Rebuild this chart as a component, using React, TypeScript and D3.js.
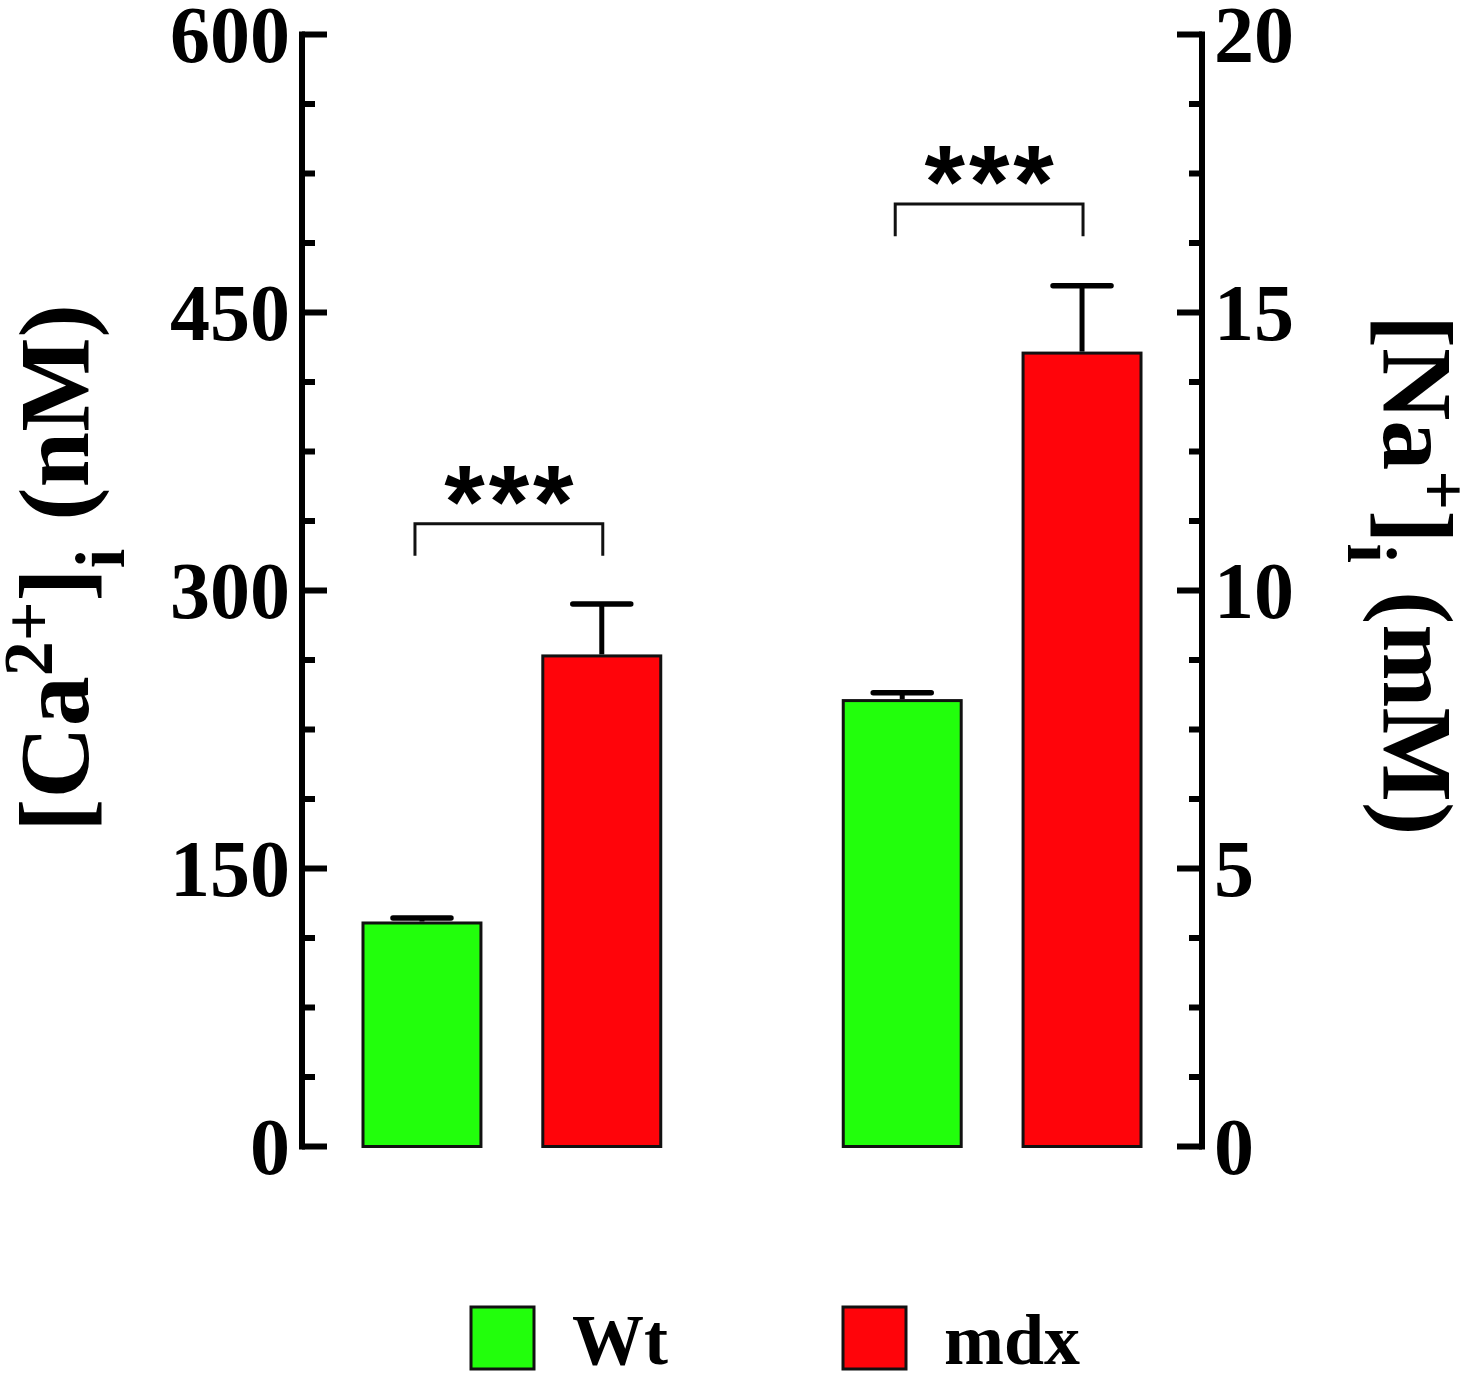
import { useEffect, useRef } from "react";
import * as d3 from "d3";

// Groups (ion) and series (genotype)
const groups = ["Ca", "Na"];
const series = ["Wt", "mdx"];
const seriesColors = ["#22ff0c", "#ff040a"];

// Means and SEM
const caMeans = [120.6, 264.7]; // nM
const caErrors = [2.7, 28.0];
const naMeans = [8.02, 14.27]; // mM
const naErrors = [0.14, 1.21];

// Axes
const caTicks = [0, 150, 300, 450, 600];
const naTicks = [0, 5, 10, 15, 20];
const caMinorStep = 37.5;
const naMinorStep = 1.25;

// Significance brackets (in each group's own units)
const sigLabels = ["***", "***"];
const sigLevels = [336, 16.95];
const sigDrops = [17.3, 0.58];

const serif = "'Liberation Serif', 'Times New Roman', serif";

export default function App() {
  const svgRef = useRef<SVGSVGElement>(null);

  useEffect(() => {
    if (!svgRef.current) return;
    const W = 1465;
    const H = 1380;
    const svg = d3.select(svgRef.current).attr("width", W).attr("height", H);
    svg.selectAll("*").remove();

    const axisLeftX = 302;
    const axisRightX = 1202;
    const top = 34.5;
    const bottom = 1146.5;

    const yCa = d3.scaleLinear().domain([0, 600]).range([bottom, top]);
    const yNa = d3.scaleLinear().domain([0, 20]).range([bottom, top]);
    const yScales = [yCa, yNa];
    const groupMeans = [caMeans, naMeans];
    const groupErrors = [caErrors, naErrors];

    const x0 = d3
      .scaleBand()
      .domain(groups)
      .range([axisLeftX, axisRightX])
      .paddingInner(0.38)
      .paddingOuter(0.127);
    const x1 = d3
      .scaleBand()
      .domain(series)
      .range([0, x0.bandwidth()])
      .paddingInner(0.344);
    const bw = x1.bandwidth();

    // Axes (ticks point inward, labels outside)
    const drawAxis = (
      y: d3.ScaleLinear<number, number>,
      ticks: number[],
      minorStep: number,
      xPos: number,
      dir: number
    ) => {
      const g = svg.append("g");
      const max = ticks[ticks.length - 1];
      g.append("line")
        .attr("x1", xPos)
        .attr("x2", xPos)
        .attr("y1", y(max) - 3)
        .attr("y2", y(0) + 3)
        .attr("stroke", "#000")
        .attr("stroke-width", 6);
      const minors = d3
        .range(0, max + 1e-9, minorStep)
        .filter((v) => !ticks.some((t) => Math.abs(t - v) < 1e-9));
      g.selectAll(".minor")
        .data(minors)
        .join("line")
        .attr("x1", xPos)
        .attr("x2", xPos + dir * 13)
        .attr("y1", (d) => y(d))
        .attr("y2", (d) => y(d))
        .attr("stroke", "#000")
        .attr("stroke-width", 6);
      g.selectAll(".major")
        .data(ticks)
        .join("line")
        .attr("x1", xPos)
        .attr("x2", xPos + dir * 25)
        .attr("y1", (d) => y(d))
        .attr("y2", (d) => y(d))
        .attr("stroke", "#000")
        .attr("stroke-width", 6);
      g.selectAll("text")
        .data(ticks)
        .join("text")
        .attr("x", xPos - dir * 12)
        .attr("y", (d) => y(d) + 27)
        .attr("text-anchor", dir > 0 ? "end" : "start")
        .style("font-family", serif)
        .style("font-weight", "bold")
        .style("font-size", "80px")
        .text((d) => String(d));
    };

    drawAxis(yCa, caTicks, caMinorStep, axisLeftX, 1);
    drawAxis(yNa, naTicks, naMinorStep, axisRightX, -1);

    // Bars with upper error bars
    groups.forEach((grp, gi) => {
      const y = yScales[gi];
      series.forEach((s, si) => {
        const m = groupMeans[gi][si];
        const e = groupErrors[gi][si];
        const bx = (x0(grp) ?? 0) + (x1(s) ?? 0);
        const cx = bx + bw / 2;
        svg
          .append("rect")
          .attr("x", bx)
          .attr("y", y(m))
          .attr("width", bw)
          .attr("height", y(0) - y(m))
          .attr("fill", seriesColors[si])
          .attr("stroke", "#111")
          .attr("stroke-width", 3);
        svg
          .append("line")
          .attr("x1", cx)
          .attr("x2", cx)
          .attr("y1", y(m) - 1.5)
          .attr("y2", y(m + e))
          .attr("stroke", "#000")
          .attr("stroke-width", 5);
        svg
          .append("line")
          .attr("x1", cx - 29)
          .attr("x2", cx + 29)
          .attr("y1", y(m + e))
          .attr("y2", y(m + e))
          .attr("stroke", "#000")
          .attr("stroke-width", 5.5)
          .attr("stroke-linecap", "round");
      });

      // Significance bracket
      const y0 = y(sigLevels[gi]);
      const y1 = y(sigLevels[gi] - sigDrops[gi]);
      const left = (x0(grp) ?? 0) + (x1(series[0]) ?? 0) + bw / 2 - 7;
      const right = (x0(grp) ?? 0) + (x1(series[1]) ?? 0) + bw / 2 + 1;
      svg
        .append("path")
        .attr("d", `M${left},${y1}V${y0}H${right}V${y1}`)
        .attr("fill", "none")
        .attr("stroke", "#111")
        .attr("stroke-width", 3);
      svg
        .append("text")
        .attr("x", (left + right) / 2 + 2)
        .attr("y", y0 + 14)
        .attr("text-anchor", "middle")
        .style("font-family", "'Liberation Sans', Arial, sans-serif")
        .style("font-weight", "bold")
        .style("font-size", "104px")
        .style("letter-spacing", "4px")
        .text(sigLabels[gi]);
    });

    // Axis titles
    const addTitle = (
      transform: string,
      ion: string,
      charge: string,
      unit: string
    ) => {
      const t = svg
        .append("text")
        .attr("transform", transform)
        .attr("text-anchor", "middle")
        .style("font-family", serif)
        .style("font-weight", "bold")
        .style("font-size", "100px");
      t.append("tspan").text(`[${ion}`);
      t.append("tspan").attr("dy", -36).style("font-size", "70px").text(charge);
      t.append("tspan").attr("dy", 36).text("]");
      t.append("tspan").attr("dy", 36).style("font-size", "70px").text("i");
      t.append("tspan").attr("dy", -36).style("font-size", "112px").text(" ");
      t.append("tspan").text(unit);
    };
    addTitle("translate(88,568) rotate(-90)", "Ca", "2+", "(nM)");
    addTitle("translate(1384,575) rotate(90)", "Na", "+", "(mM)");

    // Legend
    const legend = svg.append("g");
    series.forEach((s, i) => {
      const lx = 471 + i * 372;
      legend
        .append("rect")
        .attr("x", lx)
        .attr("y", 1307)
        .attr("width", 63)
        .attr("height", 62)
        .attr("fill", seriesColors[i])
        .attr("stroke", "#111")
        .attr("stroke-width", 3);
      legend
        .append("text")
        .attr("x", lx + 101)
        .attr("y", 1364)
        .style("font-family", serif)
        .style("font-weight", "bold")
        .style("font-size", "72px")
        .text(s);
    });
  }, []);

  return (
    <div style={{ position: "absolute", left: 0, top: 0, background: "#fff" }}>
      <svg ref={svgRef} style={{ display: "block" }} />
    </div>
  );
}
